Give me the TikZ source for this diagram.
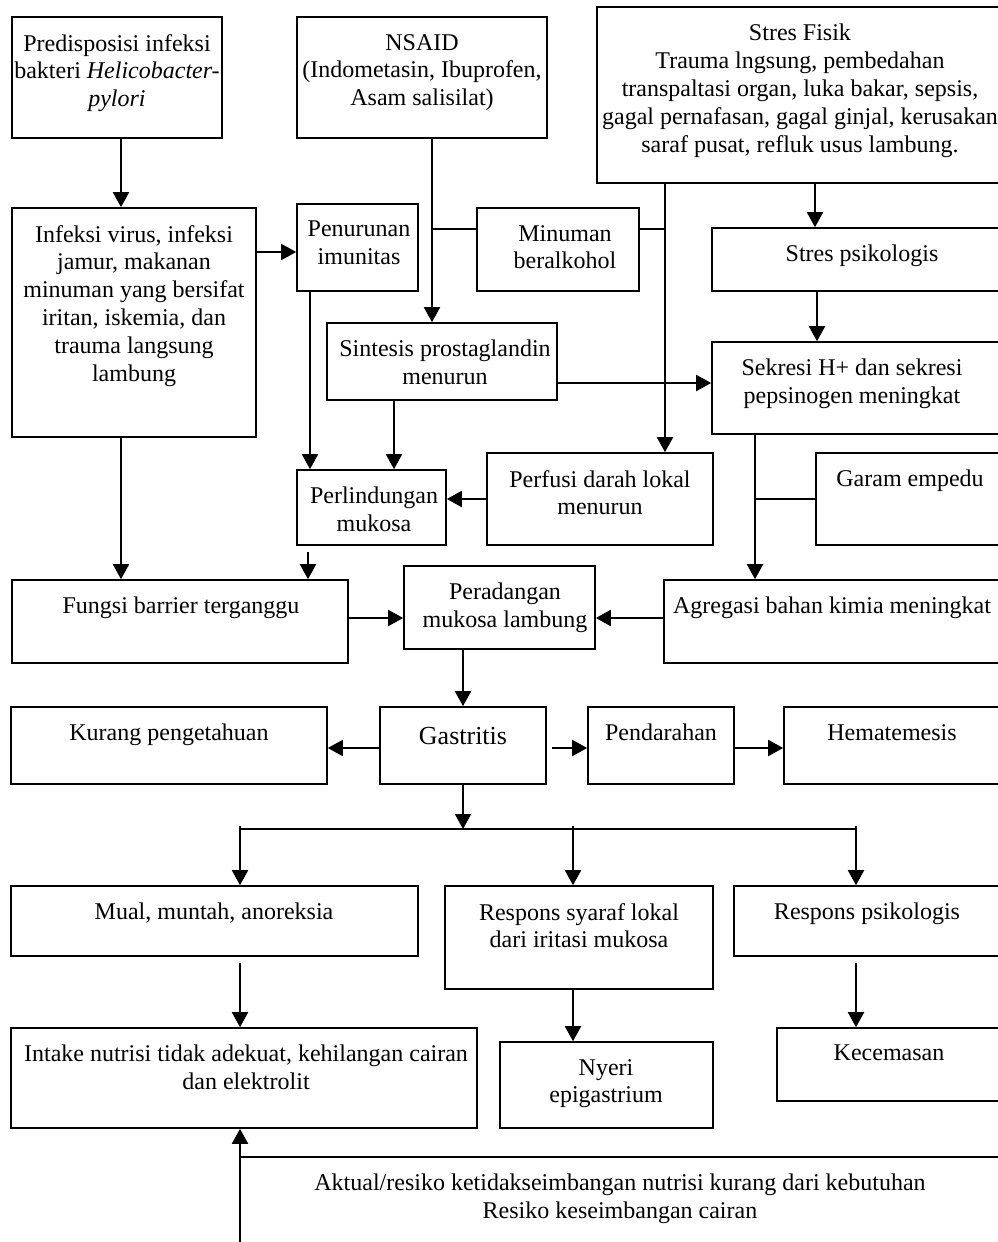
\documentclass[tikz,border=0pt]{standalone}
\usepackage{fontspec}
\setmainfont{Liberation Serif}
\usetikzlibrary{fit, positioning, arrows.meta}

\begin{document}
\begin{tikzpicture}
        [
            x=1pt, y=-1pt,
            box/.style={draw, line width=1.6pt, inner sep=0pt},
            txt/.style={anchor=north, align=center, inner sep=0pt,
                        font=\fontsize{24}{27.8}\selectfont},
            big/.style={txt, font=\fontsize{26}{30}\selectfont},
            link/.style={line width=2pt},
            >={Triangle[length=15pt, width=16pt]}
        ]
        \useasboundingbox (0,0) rectangle (998,1242);
        \clip (0,0) rectangle (998,1242);

        % boxes
        \node (pred) [box, fit={(12,17) (222,138)}] {};
        \node (nsaid) [box, fit={(297,17) (547,138)}] {};
        \node (fisik) [box, fit={(597,7) (1005,183)}] {};
        \node (infeksi) [box, fit={(12,208) (256,437)}] {};
        \node (imun) [box, fit={(297,204) (418,291)}] {};
        \node (alkohol) [box, fit={(477,208) (639,291)}] {};
        \node (psiko) [box, fit={(712,228) (1005,291)}] {};
        \node (sintesis) [box, fit={(327,323) (557,400)}] {};
        \node (sekresi) [box, fit={(712,342) (1005,434)}] {};
        \node (lindung) [box, fit={(297,470) (446,545)}] {};
        \node (perfusi) [box, fit={(487,453) (713,545)}] {};
        \node (garam) [box, fit={(816,453) (1005,545)}] {};
        \node (fungsi) [box, fit={(12,580) (348,663)}] {};
        \node (radang) [box, fit={(404,566) (595,649)}] {};
        \node (agregasi) [box, fit={(664,580) (1000,663)}] {};
        \node (kurang) [box, fit={(11,707) (327,784)}] {};
        \node (gastritis) [box, fit={(380,707) (546,784)}] {};
        \node (darah) [box, fit={(588,707) (734,784)}] {};
        \node (hemat) [box, fit={(784,707) (1005,784)}] {};
        \node (mual) [box, fit={(11,886) (418,956)}] {};
        \node (syaraf) [box, fit={(445,886) (713,989)}] {};
        \node (respsi) [box, fit={(734,886) (1005,956)}] {};
        \node (intake) [box, fit={(11,1028) (477,1128)}] {};
        \node (nyeri) [box, fit={(500,1042) (713,1128)}] {};
        \node (cemas) [box, fit={(777,1028) (1005,1101)}] {};

        % texts
        \node (pred-t) [txt] at (117,34) {Predisposisi infeksi\\bakteri \textit{Helicobacter-}\\\textit{pylori}};
        \node (nsaid-t) [txt] at (422,34) {NSAID\\(Indometasin, Ibuprofen,\\Asam salisilat)};
        \node (fisik-t) [txt] at (800,24) {Stres Fisik\\Trauma lngsung, pembedahan\\transpaltasi organ, luka bakar, sepsis,\\gagal pernafasan, gagal ginjal, kerusakan\\saraf pusat, refluk usus lambung.};
        \node (infeksi-t) [txt] at (134,225) {Infeksi virus, infeksi\\jamur, makanan\\minuman yang bersifat\\iritan, iskemia, dan\\trauma langsung\\lambung};
        \node (imun-t) [txt] at (359,221) {Penurunan\\imunitas};
        \node (alkohol-t) [txt] at (565,225) {Minuman\\beralkohol};
        \node (psiko-t) [txt] at (862,245) {Stres psikologis};
        \node (sintesis-t) [txt] at (445,340) {Sintesis prostaglandin\\menurun};
        \node (sekresi-t) [txt] at (852,359) {Sekresi H+ dan sekresi\\pepsinogen meningkat};
        \node (lindung-t) [txt] at (374,487) {Perlindungan\\mukosa};
        \node (perfusi-t) [txt] at (600,470) {Perfusi darah lokal\\menurun};
        \node (garam-t) [txt] at (910,470) {Garam empedu};
        \node (fungsi-t) [txt] at (181,597) {Fungsi barrier terganggu};
        \node (radang-t) [txt] at (505,583) {Peradangan\\mukosa lambung};
        \node (agregasi-t) [txt] at (832,597) {Agregasi bahan kimia meningkat};
        \node (kurang-t) [txt] at (169,724) {Kurang pengetahuan};
        \node (gastritis-t) [big] at (463,727) {Gastritis};
        \node (darah-t) [txt] at (661,724) {Pendarahan};
        \node (hemat-t) [txt] at (892,724) {Hematemesis};
        \node (mual-t) [txt] at (214,903) {Mual, muntah, anoreksia};
        \node (syaraf-t) [txt] at (579,903) {Respons syaraf lokal\\dari iritasi mukosa};
        \node (respsi-t) [txt] at (867,903) {Respons psikologis};
        \node (intake-t) [txt] at (246,1045) {Intake nutrisi tidak adekuat, kehilangan cairan\\dan elektrolit};
        \node (nyeri-t) [txt] at (606,1059) {Nyeri\\epigastrium};
        \node (cemas-t) [txt] at (889,1045) {Kecemasan};
        \node (note) [txt] at (620,1174) {Aktual/resiko ketidakseimbangan nutrisi kurang dari kebutuhan\\Resiko keseimbangan cairan};

        % junctions
        \coordinate (j-nsaid) at (432,229);
        \coordinate (j-fisik) at (665,229);
        \coordinate (bus) at (463,829);
        \coordinate (bus-l) at (240,829);
        \coordinate (bus-r) at (856,829);
        \coordinate (foot) at (240,1242);
        \coordinate (foot-l) at (240,1157);
        \coordinate (foot-r) at (1000,1157);

        % connectors
        \draw [link, ->] (pred.south -| 121,0) -- (infeksi.north -| 121,0);
        \draw [link, ->] (infeksi.east |- 0,252) -- (imun.west |- 0,252);
        \draw [link, ->] (nsaid.south -| j-nsaid) -- (sintesis.north -| j-nsaid);
        \draw [line width=1.6pt] (j-nsaid) -- (alkohol.west |- j-nsaid);
        \draw [line width=1.6pt] (alkohol.east |- j-fisik) -- (j-fisik);
        \draw [link, ->] (fisik.south -| j-fisik) -- (perfusi.north -| j-fisik);
        \draw [link, ->] (fisik.south -| 815,0) -- (psiko.north -| 815,0);
        \draw [link, ->] (psiko.south -| 817,0) -- (sekresi.north -| 817,0);
        \draw [link, ->] (sintesis.east |- 0,383) -- (sekresi.west |- 0,383);
        \draw [link, ->] (imun.south -| 310,0) -- (lindung.north -| 310,0);
        \draw [link, ->] (sintesis.south -| 394,0) -- (lindung.north -| 394,0);
        \draw [link, ->] (perfusi.west |- 0,499) -- (lindung.east |- 0,499);
        \draw [link, ->] ([yshift=-6pt]lindung.south -| 308,0) -- (fungsi.north -| 308,0);
        \draw [link, ->] (infeksi.south -| 121,0) -- (fungsi.north -| 121,0);
        \draw [link, ->] (sekresi.south -| 755,0) -- (agregasi.north -| 755,0);
        \draw [line width=1.6pt] (garam.west) -- (garam.west -| 755,0);
        \draw [link, ->] (fungsi.east |- 0,618) -- (radang.west |- 0,618);
        \draw [link, ->] (agregasi.west |- 0,618) -- (radang.east |- 0,618);
        \draw [link, ->] (radang.south -| 463,0) -- (gastritis.north -| 463,0);
        \draw [link, ->] (gastritis.west |- 0,748) -- (kurang.east |- 0,748);
        \draw [link, ->] ([xshift=5pt]gastritis.east |- 0,748) -- (darah.west |- 0,748);
        \draw [link, ->] (darah.east |- 0,748) -- (hemat.west |- 0,748);
        \draw [link, ->] (gastritis.south) -- (bus);
        \draw [link] (bus-l) -- (bus-r);
        \foreach \x/\b in {240/mual, 573/syaraf, 856/respsi}
            \draw [link, ->] (\x,826) -- (\b.north -| \x,0);
        \draw [link, ->] ([yshift=-6pt]mual.south -| 240,0) -- (intake.north -| 240,0);
        \draw [link, ->] (syaraf.south -| 573,0) -- (nyeri.north -| 573,0);
        \draw [link, ->] ([yshift=-6pt]respsi.south -| 856,0) -- (cemas.north -| 856,0);
        \draw [link, ->] (foot) -- (intake.south -| foot);
        \draw [link] (foot-l) -- (foot-r);
\end{tikzpicture}
\end{document}
